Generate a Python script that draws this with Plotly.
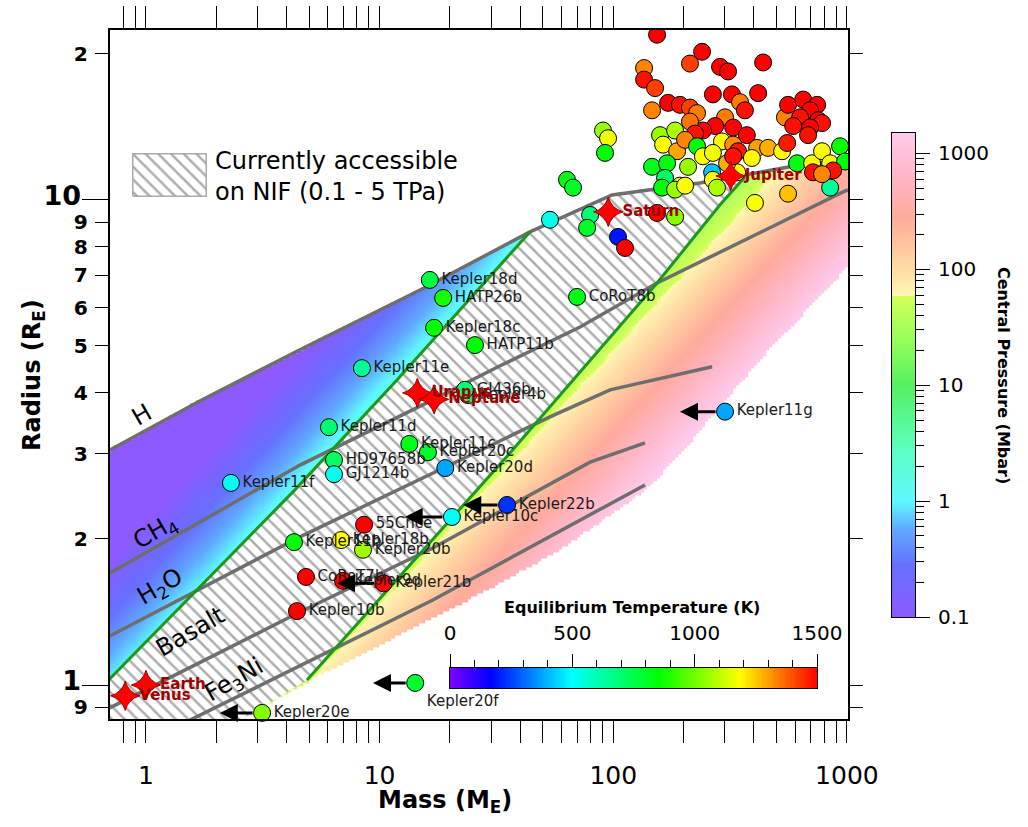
import numpy as np
import plotly.graph_objects as go

FIG_W, FIG_H = 1028, 827
FONT = "DejaVu Sans"


def px_x(a, b):
    return [a / FIG_W, b / FIG_W]


def px_y(top, bottom):
    return [1 - bottom / FIG_H, 1 - top / FIG_H]


# ---------------- axis ranges (Earth units) ----------------
mass_range = [0.7015, 1011.0]
radius_range = [0.851, 22.4]

# ---------------- composition mass-radius curves ----------------
h_mass = [0.70, 1.70, 4.56, 14.9, 44.0, 98.8, 235, 571, 1011]
h_rad = [3.05, 3.85, 4.91, 6.52, 8.59, 10.24, 10.84, 11.7, 12.09]
ch4_mass = [0.70, 4.56, 15.3, 32.8, 72.1, 154, 963, 1011]
ch4_rad = [1.70, 2.84, 3.78, 4.55, 5.47, 6.74, 10.39, 10.49]
h2o_mass = [0.70, 4.56, 53.6, 96.9, 265]
h2o_rad = [1.262, 2.02, 3.57, 4.06, 4.53]
basalt_mass = [0.70, 4.56, 16.9, 79.6, 136.8]
basalt_rad = [0.897, 1.414, 1.916, 2.88, 3.155]
fe3ni_mass = [1.398, 16.9, 136.8]
fe3ni_rad = [0.827, 1.497, 2.585]

# 0.1 TPa (1 Mbar) and 5 TPa (50 Mbar) central-pressure contours
p_low_mass = [0.69, 1.498, 4.34, 11.87, 44.0]
p_low_rad = [1.022, 1.497, 2.525, 4.255, 8.59]
p_high_mass = [4.89, 36.2, 154, 286.5, 366]
p_high_rad = [1.024, 3.01, 6.74, 9.77, 11.15]

# lower edge of the model grid
edge_mass = [2.60, 4.89, 10.04, 22.1, 59.2, 130.2, 193, 425, 1011]
edge_rad = [0.851, 1.014, 1.209, 1.462, 1.898, 2.465, 2.98, 4.68, 7.27]

# central pressure scaling P ~ M^a / R^b (log10 Mbar), calibrated on the contours
pressure_log_at_earth = 0.333
pressure_mass_exp = 2.1
pressure_radius_exp = 4.0
pressure_log_min, pressure_log_max = -1.0, 3.176

# ---------------- labelled exoplanets ----------------
planet_names = ['Kepler4b', 'Kepler18d', 'HATP26b', 'Kepler18c', 'HATP11b', 'Kepler11e',
                'GJ436b', 'CoRoT8b', 'Kepler11d', 'Kepler11c', 'Kepler20c', 'HD97658b',
                'GJ1214b', 'Kepler20d', 'Kepler11f', 'Kepler11g', 'Kepler22b', 'Kepler10c',
                '55Cnce', 'Kepler11b', 'Kepler18b', 'Kepler20b', 'CoRoT7b', 'Kepler9d',
                'Kepler21b', 'Kepler10b', 'Kepler20f', 'Kepler20e']
planet_mass = [23.9, 16.4, 18.7, 17.1, 25.6, 8.4,
               23.2, 70.0, 6.07, 13.4, 16.1, 6.38,
               6.38, 19.1, 2.31, 301, 35.1, 20.4,
               8.58, 4.30, 6.84, 8.49, 4.84, 6.97,
               10.4, 4.43, 14.2, 3.14]
planet_rad = [3.96, 6.84, 6.28, 5.45, 5.02, 4.50,
              4.06, 6.31, 3.40, 3.14, 3.02, 2.91,
              2.72, 2.80, 2.61, 3.66, 2.35, 2.22,
              2.14, 1.97, 1.99, 1.90, 1.67, 1.64,
              1.62, 1.42, 1.01, 0.876]
planet_temp = [690, 760, 880, 860, 860, 640,
               690, 830, 700, 820, 800, 720,
               520, 380, 510, 380, 230, 505,
               1500, 840, 1185, 1060, 1500, 1500,
               1500, 1500, 790, 1030]

# upper-limit arrows (tip mass) for these planets
arrow_names = ['Kepler11g', 'Kepler22b', 'Kepler10c', 'Kepler21b', 'Kepler20f', 'Kepler20e']
arrow_tip_mass = [193, 22.8, 12.8, 6.57, 9.37, 2.07]

# ---------------- unlabelled exoplanets ----------------
other_mass = [154, 240, 213, 286.5, 310, 438, 135.5, 135.5, 151, 146.6,
              171.7, 193, 213, 228.4, 267, 322, 417, 349, 366, 301,
              273, 242, 213, 224, 158.6, 184, 163.4, 187.6, 203, 228.4,
              292, 326, 373, 326, 342, 413, 392, 460, 543, 560,
              650, 746, 696, 631, 753, 783, 589, 696, 682, 528,
              555, 612, 710, 783, 848, 935, 982, 716, 873, 848,
              783, 146.6, 170, 166.6, 161.8, 193, 209, 242, 267, 265,
              267, 278, 339, 307, 326, 184, 203, 90.4, 95, 92.2,
              404, 560, 154, 184, 53.6, 79.6, 77.3, 104.8, 112.3, 63.4,
              67.3]
other_rad = [21.9, 20.2, 19.1, 18.8, 18.4, 19.2, 18.7, 17.7, 17.0, 15.3,
             15.85, 15.7, 15.5, 15.1, 16.5, 16.5, 16.6, 15.9, 15.3, 14.8,
             14.2, 13.9, 14.5, 13.7, 13.6, 13.9, 13.0, 12.6, 13.3, 12.9,
             13.2, 14.1, 13.6, 13.0, 12.6, 12.8, 12.2, 12.8, 14.8, 15.7,
             16.1, 15.7, 15.3, 14.8, 14.6, 14.4, 14.2, 14.1, 13.6, 12.6,
             13.1, 11.9, 11.9, 12.6, 11.9, 12.9, 12.0, 11.4, 11.5, 10.6,
             11.3, 11.7, 11.9, 11.1, 10.6, 10.7, 11.7, 12.3, 12.5, 11.4,
             11.0, 10.6, 11.4, 11.9, 12.3, 10.5, 10.7, 13.9, 13.4, 12.5,
             9.86, 10.3, 9.40, 9.23, 9.10, 9.31, 8.76, 8.39, 7.96, 11.0,
             10.6]
other_temp = [1500, 1500, 1420, 1500, 1500, 1500, 1330, 1480, 1420, 1330,
              1500, 1480, 1420, 1340, 1500, 1500, 1500, 1340, 1480, 1340,
              1500, 1500, 1350, 1480, 1050, 1080, 1185, 1290, 1330, 855,
              1185, 1500, 1500, 1320, 1470, 1300, 1190, 1280, 1330, 1500,
              1500, 1500, 1500, 1480, 1500, 1480, 1480, 1500, 1480, 1185,
              1470, 830, 1180, 1190, 1180, 870, 850, 1480, 1480, 640,
              1330, 820, 830, 720, 850, 1190, 1050, 1180, 1170, 420,
              1185, 1080, 1185, 1280, 1480, 1050, 1180, 1050, 1170, 850,
              1180, 1260, 1500, 1030, 530, 690, 800, 190, 1500, 830,
              800]

# ---------------- solar system ----------------
solar_names = ['Venus', 'Earth', 'Uranus', 'Neptune', 'Saturn', 'Jupiter']
solar_mass = [0.815, 1.0, 14.5, 17.1, 95.2, 317.8]
solar_rad = [0.95, 1.0, 4.0, 3.88, 9.45, 11.2]

# ---------------- composition labels ----------------
comp_labels = ['H', 'CH<sub>4</sub>', 'H<sub>2</sub>O', 'Basalt', 'Fe<sub>3</sub>Ni']
comp_label_mass = [0.96, 1.10, 1.16, 1.54, 2.40]
comp_label_rad = [3.60, 2.06, 1.585, 1.286, 1.024]

# ---------------- colour scales ----------------
p_scale_log = [-1.0, -0.55, -0.25, 0.0, 0.45, 1.0, 1.4, 1.77, 1.775, 2.1, 2.45, 2.75, 3.176]
p_scale_col = ['#8c5aff', '#6670ff', '#5fa8ff', '#5ff8ff', '#5cffc0', '#55f060', '#98ff58',
               '#d4ff5a', '#fff6b0', '#ffd0a0', '#ffaa9c', '#ffb4c0', '#ffcaec']
t_scale_val = [0, 165, 495, 855, 1185, 1335, 1500]
t_scale_col = ['#8000ff', '#0000ff', '#00ffff', '#00ff00', '#ffff00', '#ff8000', '#ff0000']

P_SCALE = [[(v - pressure_log_min) / (pressure_log_max - pressure_log_min), c]
           for v, c in zip(p_scale_log, p_scale_col)]
T_SCALE = [[v / 1500.0, c] for v, c in zip(t_scale_val, t_scale_col)]

# ---------------- pressure field ----------------
lm_e = np.linspace(-0.2, 3.06, 251)
lr_e = np.linspace(-0.1, 1.37, 241)
lm_c = 0.5 * (lm_e[:-1] + lm_e[1:])
lr_c = 0.5 * (lr_e[:-1] + lr_e[1:])
LM, LR = np.meshgrid(lm_c, lr_c)
top = np.interp(LM, np.log10(h_mass), np.log10(h_rad))
bot = np.interp(LM, np.log10(edge_mass), np.log10(edge_rad), left=-1.0)
Z = pressure_log_at_earth + pressure_mass_exp * LM - pressure_radius_exp * LR
Z[(LR > top) | (LR < bot)] = np.nan

fig = go.Figure()

fig.add_trace(go.Heatmap(x=10 ** lm_e, y=10 ** lr_e, z=Z, colorscale=P_SCALE,
                         zmin=pressure_log_min, zmax=pressure_log_max, showscale=False,
                         hoverinfo='skip', xaxis='x', yaxis='y'))

# hatched NIF-accessible region
mid_m = [m for m in h_mass if p_low_mass[-1] < m < p_high_mass[-1]]
mid_r = [r for m, r in zip(h_mass, h_rad) if p_low_mass[-1] < m < p_high_mass[-1]]
low_m = [m for m in edge_mass if m < p_high_mass[0]][::-1]
low_r = [r for m, r in zip(edge_mass, edge_rad) if m < p_high_mass[0]][::-1]
poly_m = [0.6] + p_low_mass + mid_m + p_high_mass[::-1] + low_m + [1.5, 0.6]
poly_r = [0.98] + p_low_rad + mid_r + p_high_rad[::-1] + low_r + [0.7, 0.7]
HATCH = dict(shape='\\', bgcolor='white', fgcolor='#5a5a5a', size=9, solidity=0.28)
fig.add_trace(go.Scatter(x=poly_m, y=poly_r, mode='lines', fill='toself',
                         fillpattern=HATCH, fillcolor='white', line=dict(width=0),
                         hoverinfo='skip', xaxis='x', yaxis='y'))

for m, r in [(h_mass, h_rad), (ch4_mass, ch4_rad), (h2o_mass, h2o_rad),
             (basalt_mass, basalt_rad), (fe3ni_mass, fe3ni_rad)]:
    fig.add_trace(go.Scatter(x=m, y=r, mode='lines', line=dict(color='#6e6e6e', width=3.5),
                             hoverinfo='skip', xaxis='x', yaxis='y'))
for m, r in [(p_low_mass, p_low_rad), (p_high_mass, p_high_rad)]:
    fig.add_trace(go.Scatter(x=m, y=r, mode='lines', line=dict(color='#1c981c', width=3),
                             hoverinfo='skip', xaxis='x', yaxis='y'))

MARKER_LINE = dict(color='black', width=1)
fig.add_trace(go.Scatter(x=other_mass, y=other_rad, mode='markers',
                         marker=dict(size=17, color=other_temp, colorscale=T_SCALE, cmin=0,
                                     cmax=1500, line=MARKER_LINE),
                         hoverinfo='skip', xaxis='x', yaxis='y'))

text_pos = ['bottom right' if n == 'Kepler20f' else 'middle right' for n in planet_names]
fig.add_trace(go.Scatter(x=planet_mass, y=planet_rad, mode='markers+text', text=planet_names,
                         textposition=text_pos, cliponaxis=False,
                         textfont=dict(family=FONT, size=15, color='#1a1a1a'),
                         marker=dict(size=17, color=planet_temp, colorscale=T_SCALE, cmin=0,
                                     cmax=1500, line=MARKER_LINE),
                         hoverinfo='skip', xaxis='x', yaxis='y'))

fig.add_trace(go.Scatter(x=solar_mass, y=solar_rad, mode='markers+text', text=solar_names,
                         textposition='middle right', cliponaxis=False,
                         textfont=dict(family=FONT, size=15, color='#a00000', weight='bold'),
                         marker=dict(symbol='star-diamond', size=21, color='#ff0000',
                                     line=dict(color='#a00000', width=1)),
                         hoverinfo='skip', xaxis='x', yaxis='y'))

# dummy trace for the long decade ticks axis
fig.add_trace(go.Scatter(x=[1], y=[1], mode='markers', marker=dict(opacity=0),
                         hoverinfo='skip', xaxis='x', yaxis='y6'))

# pressure colour bar
pb_edges = 10 ** np.linspace(pressure_log_min, pressure_log_max, 301)
pb_z = np.log10(np.sqrt(pb_edges[:-1] * pb_edges[1:]))[:, None]
fig.add_trace(go.Heatmap(x=[0, 1], y=pb_edges, z=pb_z, colorscale=P_SCALE,
                         zmin=pressure_log_min, zmax=pressure_log_max, showscale=False,
                         hoverinfo='skip', xaxis='x3', yaxis='y3'))

# temperature colour bar
tb_edges = np.linspace(0, 1500, 301)
tb_z = (0.5 * (tb_edges[:-1] + tb_edges[1:]))[None, :]
fig.add_trace(go.Heatmap(x=tb_edges, y=[0, 1], z=tb_z, colorscale=T_SCALE, zmin=0, zmax=1500,
                         showscale=False, hoverinfo='skip', xaxis='x4', yaxis='y4'))

# legend hatched box
fig.add_trace(go.Scatter(x=[0, 1, 1, 0, 0], y=[0, 0, 1, 1, 0], mode='lines', fill='toself',
                         fillpattern=HATCH, fillcolor='white',
                         line=dict(color='#aaaaaa', width=1.5), hoverinfo='skip',
                         xaxis='x5', yaxis='y5'))

# ---------------- annotations ----------------
ann = []
name_idx = {n: i for i, n in enumerate(planet_names)}
for n, tip in zip(arrow_names, arrow_tip_mass):
    i = name_idx[n]
    ann.append(dict(x=np.log10(tip), y=np.log10(planet_rad[i]), ax=np.log10(planet_mass[i]),
                    ay=np.log10(planet_rad[i]), xref='x', yref='y', axref='x', ayref='y',
                    text='', showarrow=True, arrowhead=2, arrowsize=1.2, arrowwidth=3,
                    arrowcolor='black', startstandoff=8))
for t, m, r in zip(comp_labels, comp_label_mass, comp_label_rad):
    ann.append(dict(x=np.log10(m), y=np.log10(r), xref='x', yref='y', text=t, showarrow=False,
                    textangle=-30, font=dict(family=FONT, size=24, color='black')))

ann += [
    dict(x=445 / FIG_W, y=1 - 801 / FIG_H, xref='paper', yref='paper', xanchor='center',
         yanchor='middle', text='Mass (M<sub>E</sub>)', showarrow=False,
         font=dict(family=FONT, size=24, color='black', weight='bold')),
    dict(x=33 / FIG_W, y=1 - 375 / FIG_H, xref='paper', yref='paper', xanchor='center',
         yanchor='middle', text='Radius (R<sub>E</sub>)', showarrow=False, textangle=-90,
         font=dict(family=FONT, size=24, color='black', weight='bold')),
    dict(x=1004 / FIG_W, y=1 - 375 / FIG_H, xref='paper', yref='paper', xanchor='center',
         yanchor='middle', text='Central Pressure (Mbar)', showarrow=False, textangle=90,
         font=dict(family=FONT, size=16, color='black', weight='bold')),
    dict(x=632 / FIG_W, y=1 - 607 / FIG_H, xref='paper', yref='paper', xanchor='center',
         yanchor='middle', text='Equilibrium Temperature (K)', showarrow=False,
         font=dict(family=FONT, size=16, color='black', weight='bold')),
    dict(x=213 / FIG_W, y=1 - 177 / FIG_H, xref='paper', yref='paper', xanchor='left',
         yanchor='middle', align='left', showarrow=False,
         text='Currently accessible<br>on NIF (0.1 - 5 TPa)',
         font=dict(family=FONT, size=24, color='black')),
]

minor_mass = [m * 10.0 ** d for d in (-1, 0, 1, 2) for m in range(2, 10) if 0.7 < m * 10.0 ** d < 1000]
minor_p = [m * 10.0 ** d for d in (-1, 0, 1, 2, 3) for m in range(2, 10) if m * 10.0 ** d < 1500]

main_x_range = [np.log10(mass_range[0]), np.log10(mass_range[1])]
main_y_range = [np.log10(radius_range[0]), np.log10(radius_range[1])]
blank = dict(showgrid=False, zeroline=False, showticklabels=False, ticks='', automargin=False)

fig.update_layout(
    width=FIG_W, height=FIG_H, margin=dict(l=0, r=0, t=0, b=0, autoexpand=False),
    paper_bgcolor='white', plot_bgcolor='white', showlegend=False,
    font=dict(family=FONT, color='black'),
    xaxis=dict(domain=px_x(110, 848), anchor='y', type='log', range=main_x_range,
               tickmode='array', tickvals=[1, 10, 100, 1000],
               ticktext=['1', '10', '100', '1000'], ticks='outside', ticklen=22,
               tickwidth=1.3, tickcolor='black', ticklabelstandoff=11,
               minor=dict(tickmode='array', tickvals=minor_mass, ticks='outside', ticklen=11,
                          tickwidth=1.2, tickcolor='black', showgrid=False),
               showline=True, linecolor='black', linewidth=1.5, mirror='allticks',
               showgrid=False, zeroline=False, tickfont=dict(size=25), automargin=False),
    yaxis=dict(domain=px_y(30, 719), anchor='x', type='log', range=main_y_range, dtick='D1',
               ticks='outside', ticklen=13, tickwidth=1.3, tickcolor='black',
               showline=True, linecolor='black', linewidth=1.5, mirror='allticks',
               showgrid=False, zeroline=False, ticklabelstandoff=2,
               tickfont=dict(size=27, weight='bold'), automargin=False),
    yaxis6=dict(overlaying='y', anchor='x', side='left', type='log', range=main_y_range,
                tickmode='array', tickvals=[1, 10], ticks='outside', ticklen=27,
                tickwidth=1.3, tickcolor='black', showticklabels=False, showline=False,
                showgrid=False, zeroline=False, automargin=False),
    xaxis3=dict(domain=px_x(892, 915), anchor='y3', range=[0, 1], showline=True,
                linecolor='black', linewidth=1, mirror=True, **blank),
    yaxis3=dict(domain=px_y(133, 617), anchor='x3', side='right', type='log',
                range=[pressure_log_min, pressure_log_max], tickmode='array',
                tickvals=[0.1, 1, 10, 100, 1000], ticktext=['0.1', '1', '10', '100', '1000'],
                ticks='outside', ticklen=14, tickwidth=1.2, tickcolor='black',
                minor=dict(tickmode='array', tickvals=minor_p, ticks='outside', ticklen=8,
                           tickwidth=1, tickcolor='black'),
                showline=True, linecolor='black', linewidth=1, mirror=True,
                showgrid=False, zeroline=False, ticklabelstandoff=4,
                tickfont=dict(size=20), automargin=False),
    xaxis4=dict(domain=px_x(450, 817), anchor='y4', side='top', range=[0, 1500],
                tickmode='array', tickvals=[0, 500, 1000, 1500], ticks='outside', ticklen=13,
                tickwidth=1.2, tickcolor='black',
                minor=dict(tickmode='array', tickvals=list(range(100, 1500, 100)),
                           ticks='outside', ticklen=7, tickwidth=1, tickcolor='black'),
                showline=True, linecolor='black', linewidth=1, mirror=True,
                showgrid=False, zeroline=False, ticklabelstandoff=6, tickfont=dict(size=20),
                automargin=False),
    yaxis4=dict(domain=px_y(668, 688), anchor='x4', range=[0, 1], showline=True,
                linecolor='black', linewidth=1, mirror=True, **blank),
    xaxis5=dict(domain=px_x(132, 207), anchor='y5', range=[-0.01, 1.01], showline=False, **blank),
    yaxis5=dict(domain=px_y(153, 197), anchor='x5', range=[-0.02, 1.02], showline=False, **blank),
    annotations=ann,
)

fig.write_html("out.html")
